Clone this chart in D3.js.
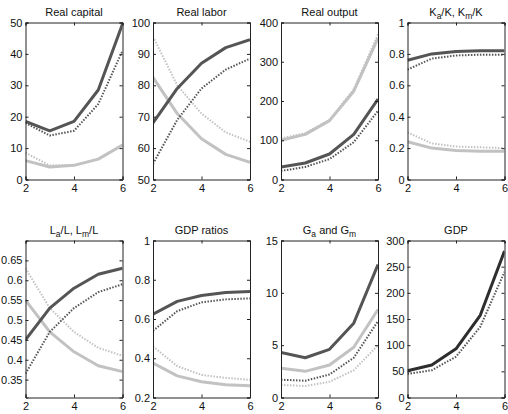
<!DOCTYPE html>
<html><head><meta charset="utf-8">
<script src="https://cdn.jsdelivr.net/npm/d3@7"></script>
<style>body{margin:0;background:#fff}svg{display:block}text{font-family:"Liberation Sans",Arial,sans-serif}</style>
</head><body><svg id="c" width="508" height="414"></svg>
<script>
const xs = [2, 3, 4, 5, 6];
const xTicks = [2, 4, 6];

// Panel 1: Real capital
const capDarkSolid = [18.5, 15.5, 18.5, 28.5, 49.5];
const capDarkDot   = [18, 14, 15.5, 24, 41];
const capLightSolid= [6, 4, 4.5, 6.5, 11];
const capLightDot  = [8.5, 4.5, 4.5, 6.5, 11];
// Panel 2: Real labor
const labDarkSolid = [68, 79, 87, 92, 94.5];
const labDarkDot   = [55, 69, 79, 85, 88.5];
const labLightSolid= [82.5, 71, 63, 58, 55.5];
const labLightDot  = [95.5, 80, 71, 65, 62];
// Panel 3: Real output
const outLightSolid= [100, 115, 150, 225, 360];
const outLightDot  = [105, 118, 152, 230, 370];
const outDarkSolid = [32, 42, 65, 115, 205];
const outDarkDot   = [22, 32, 52, 95, 175];
// Panel 4: Ka/K, Km/K
const kDarkSolid   = [0.76, 0.80, 0.815, 0.82, 0.82];
const kDarkDot     = [0.70, 0.77, 0.79, 0.795, 0.795];
const kLightSolid  = [0.24, 0.20, 0.185, 0.18, 0.18];
const kLightDot    = [0.30, 0.23, 0.21, 0.205, 0.20];
// Panel 5: La/L, Lm/L
const lDarkSolid   = [0.45, 0.53, 0.58, 0.615, 0.63];
const lDarkDot     = [0.365, 0.47, 0.53, 0.57, 0.59];
const lLightSolid  = [0.55, 0.47, 0.42, 0.385, 0.37];
const lLightDot    = [0.63, 0.53, 0.47, 0.43, 0.41];
// Panel 6: GDP ratios
const gDarkSolid   = [0.625, 0.69, 0.72, 0.735, 0.74];
const gDarkDot     = [0.54, 0.64, 0.685, 0.70, 0.705];
const gLightSolid  = [0.375, 0.31, 0.28, 0.265, 0.26];
const gLightDot    = [0.46, 0.36, 0.315, 0.30, 0.29];
// Panel 7: Ga and Gm
const gaDarkSolid  = [4.3, 3.8, 4.6, 7.1, 12.7];
const gaLightSolid = [2.8, 2.5, 3.1, 4.8, 8.4];
const gaDarkDot    = [1.7, 1.6, 2.2, 3.8, 7.3];
const gaLightDot   = [1.2, 1.1, 1.5, 2.6, 5.0];
// Panel 8: GDP
const gdpSolid     = [51, 62, 93, 157, 280];
const gdpDot       = [45, 52, 78, 135, 240];

const DARK = "#555", LIGHT = "#c2c2c2";
const sD = {color: DARK, dash: null, w: 3};
const dD = {color: DARK, dash: "1.5,1.5", w: 2};
const sL = {color: LIGHT, dash: null, w: 3};
const dL = {color: LIGHT, dash: "1.5,1.5", w: 2};

const panels = [
  {title: [["Real capital"]], dom: [0, 50], ticks: [0,10,20,30,40,50],
   series: [[capLightSolid,sL],[capLightDot,dL],[capDarkDot,dD],[capDarkSolid,sD]]},
  {title: [["Real labor"]], dom: [50, 100], ticks: [50,60,70,80,90,100],
   series: [[labLightSolid,sL],[labLightDot,dL],[labDarkDot,dD],[labDarkSolid,sD]]},
  {title: [["Real output"]], dom: [0, 400], ticks: [0,100,200,300,400],
   series: [[outLightSolid,sL],[outLightDot,dL],[outDarkDot,dD],[outDarkSolid,sD]]},
  {title: [["K"],["a","sub"],["/K, K"],["m","sub"],["/K"]], dom: [0, 1], ticks: [0,0.2,0.4,0.6,0.8,1],
   series: [[kLightSolid,sL],[kLightDot,dL],[kDarkDot,dD],[kDarkSolid,sD]]},
  {title: [["L"],["a","sub"],["/L, L"],["m","sub"],["/L"]], dom: [0.305, 0.7], ticks: [0.35,0.4,0.45,0.5,0.55,0.6,0.65],
   series: [[lLightSolid,sL],[lLightDot,dL],[lDarkDot,dD],[lDarkSolid,sD]]},
  {title: [["GDP ratios"]], dom: [0.2, 1], ticks: [0.2,0.4,0.6,0.8,1],
   series: [[gLightSolid,sL],[gLightDot,dL],[gDarkDot,dD],[gDarkSolid,sD]]},
  {title: [["G"],["a","sub"],[" and G"],["m","sub"]], dom: [0, 15], ticks: [0,5,10,15],
   series: [[gaLightDot,dL],[gaDarkDot,dD],[gaLightSolid,sL],[gaDarkSolid,sD]]},
  {title: [["GDP"]], dom: [0, 300], ticks: [0,50,100,150,200,250,300],
   series: [[gdpDot,{color:"#555",dash:"1.5,1.5",w:2}],[gdpSolid,{color:"#2e2e2e",dash:null,w:3}]]}
];

const lefts = [25.5, 153, 281, 407.5];
const tops = [22.5, 240.5];
const W = 97, H = 157;
const svg = d3.select("#c");
const FONT = "'Liberation Sans',Arial,sans-serif";

panels.forEach((p, i) => {
  const col = i % 4, row = Math.floor(i / 4);
  const g = svg.append("g").attr("transform", `translate(${lefts[col]},${tops[row]})`);
  const x = d3.scaleLinear().domain([2, 6]).range([0, W]);
  const y = d3.scaleLinear().domain(p.dom).range([H, 0]);
  g.append("clipPath").attr("id", "cp" + i)
    .append("rect").attr("x", 0).attr("y", 0).attr("width", W).attr("height", H);

  const line = d3.line().x((d, j) => x(xs[j])).y(d => y(d));
  const lg = g.append("g").attr("clip-path", `url(#cp${i})`);
  p.series.forEach(([vals, st]) => {
    lg.append("path").datum(vals).attr("d", line)
      .attr("fill", "none").attr("stroke", st.color).attr("stroke-width", st.w)
      .attr("stroke-dasharray", st.dash).attr("stroke-linejoin", "round");
  });

  const ax = g.append("g").attr("transform", `translate(0,${H})`)
    .call(d3.axisBottom(x).tickValues(xTicks).tickSize(-3).tickPadding(5).tickFormat(d3.format("d")));
  const ax2 = g.append("g").call(d3.axisTop(x).tickValues(xTicks).tickSize(-3).tickFormat(""));
  const ay = g.append("g").call(d3.axisLeft(y).tickValues(p.ticks).tickSize(-3).tickPadding(3).tickFormat(d => String(d)));
  const ay2 = g.append("g").attr("transform", `translate(${W},0)`)
    .call(d3.axisRight(y).tickValues(p.ticks).tickSize(-3).tickFormat(""));
  [ax, ax2, ay, ay2].forEach(a => {
    a.select(".domain").attr("stroke", "#222");
    a.selectAll(".tick line").attr("stroke", "#222");
    a.selectAll("text").attr("font-size", 11).attr("fill", "#111").attr("font-family", FONT);
  });

  const t = g.append("text").attr("x", W / 2).attr("y", -7).attr("text-anchor", "middle")
    .attr("font-size", 11).attr("fill", "#111").attr("font-family", FONT);
  let n = 0;
  p.title.forEach(([s, k]) => {
    if (k === "sub") t.append("tspan").attr("dy", 3.5).attr("font-size", 8.5).text(s);
    else {
      const ts = t.append("tspan").text(s);
      if (n > 0) ts.attr("dy", -3.5);
    }
    n++;
  });
});
</script></body></html>
